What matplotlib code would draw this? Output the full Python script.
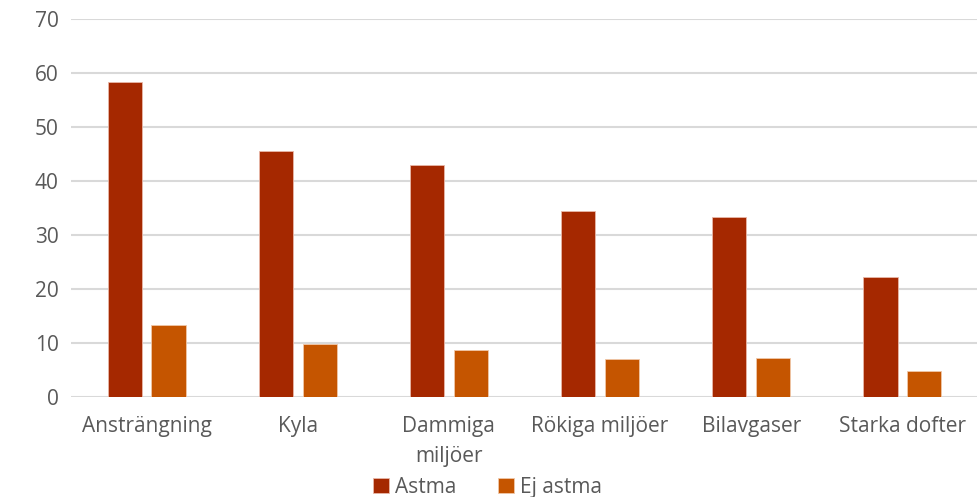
# grouped bar chart: astma vs ej astma
import numpy as np
import matplotlib.pyplot as plt

categories = ['Ansträngning', 'Kyla', 'Dammiga\nmiljöer', 'Rökiga miljöer',
              'Bilavgaser', 'Starka dofter']
astma = [58.3, 45.6, 43.0, 34.4, 33.4, 22.3]
ej_astma = [13.4, 9.9, 8.7, 7.0, 7.2, 4.8]
series_names = ['Astma', 'Ej astma']

plt.rcParams['font.family'] = ['Open Sans', 'DejaVu Sans']


def main():
    fig = plt.figure(figsize=(9.78, 4.97), dpi=100)
    ax = fig.add_axes([0.0726, 0.2012, 0.9274, 0.7606])

    x = np.arange(len(categories))
    w = 0.225
    off = 0.145
    ax.bar(x - off, astma, w, color='#A52800', edgecolor='#E8B8A8',
           linewidth=0.6, label=series_names[0], zorder=3)
    ax.bar(x + off, ej_astma, w, color='#C55500', edgecolor='#F0C8A8',
           linewidth=0.6, label=series_names[1], zorder=3)

    ax.set_xlim(-0.5, len(categories) - 0.5)
    ax.set_ylim(0, 70)
    ax.set_yticks(range(0, 71, 10))
    ax.set_xticks(x)
    ax.set_xticklabels(categories)
    ax.grid(axis='y', color='#D9D9D9', linewidth=1.5, zorder=0)
    for s in ax.spines.values():
        s.set_visible(False)
    ax.tick_params(length=0, labelsize=15, colors='#595959')
    ax.tick_params(axis='y', pad=9)
    ax.tick_params(axis='x', pad=14)
    for lbl in ax.get_xticklabels():
        lbl.set_linespacing(1.55)

    fig.legend(loc='center', bbox_to_anchor=(0.4985, 0.02),
               ncol=2, frameon=False, fontsize=15, handlelength=0.75,
               handleheight=0.75, handletextpad=0.3, columnspacing=2.0,
               labelcolor='#595959', borderpad=0)

    fig.savefig('out.png', dpi=100)


main()
